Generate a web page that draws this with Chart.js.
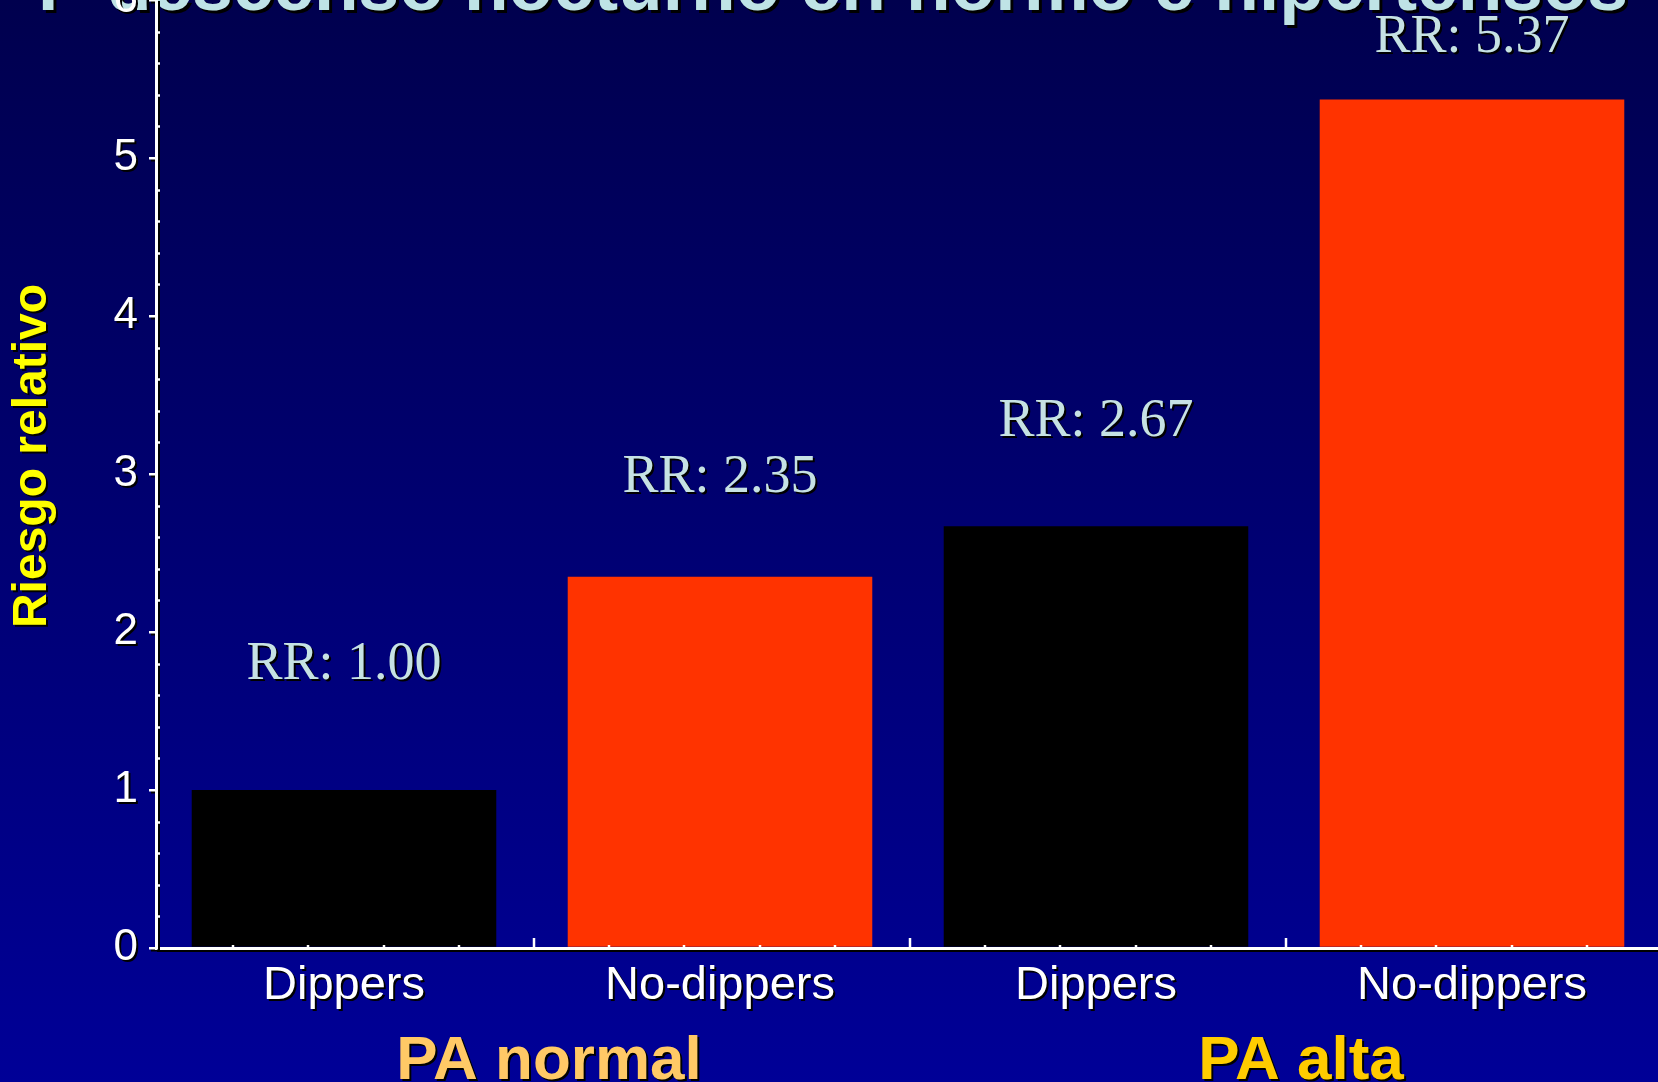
<!DOCTYPE html>
<html>
<head>
<meta charset="utf-8">
<script src="https://cdn.jsdelivr.net/npm/chart.js@4"></script>
<style>
html, body { margin: 0; padding: 0; overflow: hidden; width: 1658px; height: 1082px; }
body { background: linear-gradient(to bottom, #00004e 0%, #000097 100%); }
#wrap { position: absolute; left: 0; top: -100px; width: 1700px; height: 1182px; }
</style>
</head>
<body>
<div id="wrap"><canvas id="chart"></canvas></div>
<script>
const categories = ['Dippers', 'No-dippers', 'Dippers', 'No-dippers'];
const groups = ['PA normal', 'PA alta'];
const riesgo = [1.00, 2.35, 2.67, 5.37];
const rrLabels = ['RR: 1.00', 'RR: 2.35', 'RR: 2.67', 'RR: 5.37'];
const barColors = ['#000000', '#ff3300', '#000000', '#ff3300'];
const titulo = 'P descenso nocturno en normo e hipertensos';
const yTitle = 'Riesgo relativo';

// how far above each bar top the RR text sits (px)
const rrGap = [111, 85, 90, 48];
const groupColors = ['#ffc966', '#ffcc00'];

const SANS = '"Liberation Sans", Arial, sans-serif';
const SERIF = '"Liberation Serif", "Times New Roman", serif';

function shadow(ctx, on, off) {
  ctx.shadowColor = on ? '#000000' : 'transparent';
  ctx.shadowOffsetX = on ? (off || 2) : 0;
  ctx.shadowOffsetY = on ? (off || 2) : 0;
  ctx.shadowBlur = 0;
}

const extras = {
  id: 'extras',
  beforeDraw(chart) {
    const ctx = chart.ctx;
    ctx.save();
    // slide title, mostly cut off at the top
    ctx.font = 'bold 73px ' + SANS;
    ctx.fillStyle = '#bfe3e6';
    ctx.textAlign = 'left';
    ctx.textBaseline = 'alphabetic';
    shadow(ctx, true, 3);
    ctx.fillText(titulo, 38, 110);
    ctx.restore();
    // tick labels get a small drop shadow
    shadow(ctx, true, 2);
  },
  beforeDatasetsDraw(chart) {
    shadow(chart.ctx, false);
  },
  afterDraw(chart) {
    const ctx = chart.ctx;
    const x = chart.scales.x;
    const y = chart.scales.y;
    ctx.save();
    shadow(ctx, false);
    ctx.strokeStyle = '#ffffff';
    ctx.lineWidth = 2.5;

    // y minor ticks, inward
    for (let v = 0.2; v < 6; v += 0.2) {
      if (Math.abs(v - Math.round(v)) < 0.01) continue;
      const py = Math.round(y.getPixelForValue(v)) + 0.5;
      ctx.beginPath();
      ctx.moveTo(y.right, py);
      ctx.lineTo(y.right + 4, py);
      ctx.stroke();
    }

    // x ticks, pointing up
    const w = (x.right - x.left) / categories.length;
    for (let i = 0; i < categories.length; i++) {
      for (let k = 1; k <= 5; k++) {
        const px = Math.round(x.left + i * w + k * w / 5) + 2;
        const len = k === 5 ? 10 : 3;
        ctx.beginPath();
        ctx.moveTo(px, x.top);
        ctx.lineTo(px, x.top - len);
        ctx.stroke();
      }
    }

    // RR labels above bars
    shadow(ctx, true, 2);
    ctx.font = '54px ' + SERIF;
    ctx.fillStyle = '#c6e2e4';
    ctx.textAlign = 'center';
    ctx.textBaseline = 'alphabetic';
    riesgo.forEach((v, i) => {
      ctx.fillText(rrLabels[i], x.getPixelForValue(i), y.getPixelForValue(v) - rrGap[i]);
    });

    // group labels under the categories
    ctx.font = 'bold 62px ' + SANS;
    groups.forEach((g, j) => {
      const cx = (x.getPixelForValue(j * 2) + x.getPixelForValue(j * 2 + 1)) / 2 + 17;
      ctx.fillStyle = groupColors[j];
      ctx.fillText(g, cx, y.bottom + 131);
    });

    // y axis title
    ctx.font = 'bold 48px ' + SANS;
    ctx.fillStyle = '#ffff00';
    ctx.translate(33, y.top + 456);
    ctx.rotate(-Math.PI / 2);
    ctx.textBaseline = 'middle';
    ctx.fillText(yTitle, 0, 0);
    ctx.restore();
  }
};

const ctx = document.getElementById('chart').getContext('2d');
const myChart = new Chart(ctx, {
  type: 'bar',
  data: {
    labels: categories,
    datasets: [{
      label: yTitle,
      data: riesgo,
      backgroundColor: barColors,
      borderWidth: 0,
      barPercentage: 0.81,
      categoryPercentage: 1.0
    }]
  },
  options: {
    responsive: true,
    maintainAspectRatio: false,
    animation: false,
    layout: { padding: { top: 100, right: 40, left: 0, bottom: 0 } },
    plugins: {
      legend: { display: false },
      tooltip: { enabled: false }
    },
    scales: {
      x: {
        grid: { display: false, drawTicks: false },
        border: { display: true, color: '#ffffff', width: 3 },
        ticks: {
          color: '#ffffff',
          font: { family: SANS, size: 47 },
          padding: 10,
          maxRotation: 0
        },
        afterFit(scale) { scale.height = 134; }
      },
      y: {
        min: 0,
        max: 6,
        grid: { display: true, drawOnChartArea: false, drawTicks: true, tickLength: 7, color: '#ffffff', lineWidth: 2.5 },
        border: { display: true, color: '#ffffff', width: 3 },
        ticks: {
          stepSize: 1,
          color: '#ffffff',
          font: { family: SANS, size: 44 },
          padding: 11
        },
        afterFit(scale) { scale.width = 156; }
      }
    }
  },
  plugins: [extras]
});
</script>
</body>
</html>
